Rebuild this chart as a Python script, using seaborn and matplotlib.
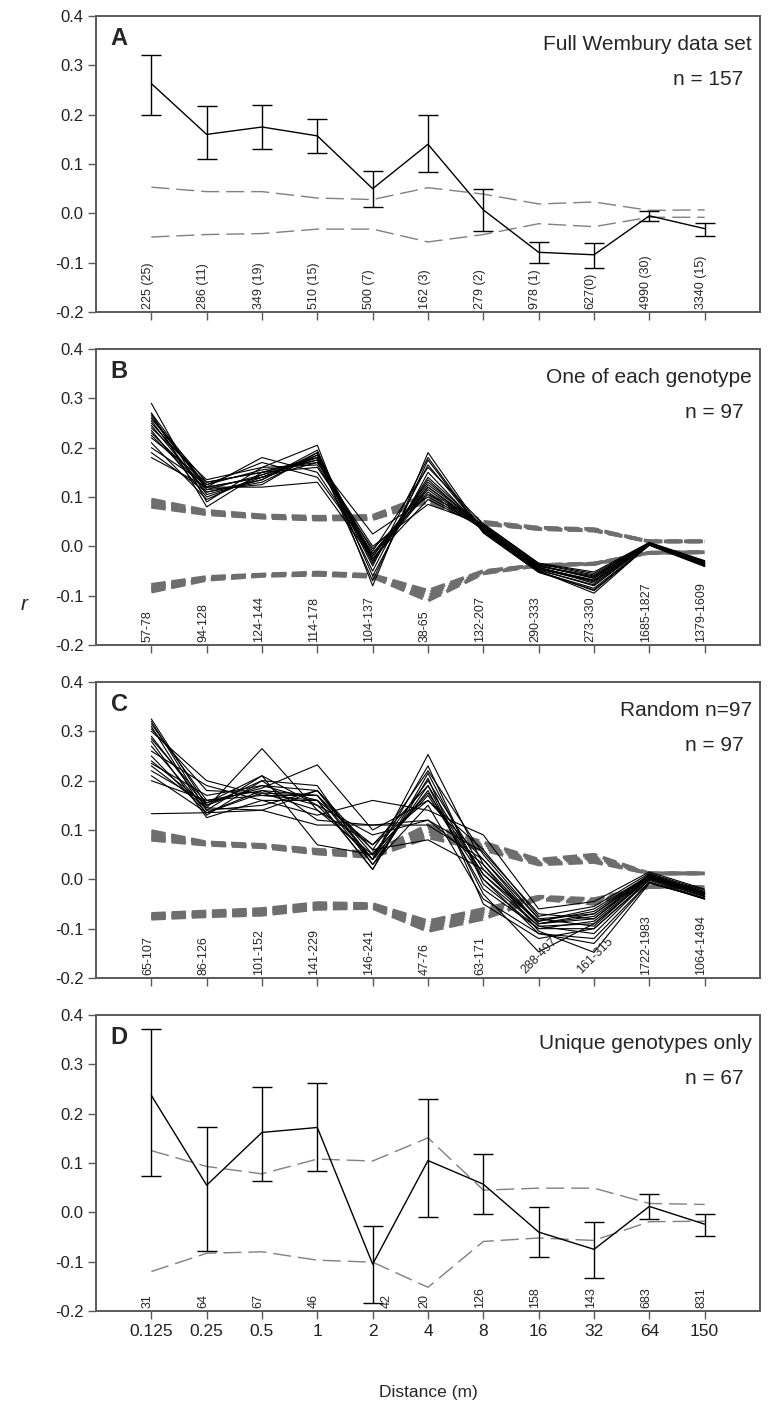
import matplotlib
matplotlib.use("Agg")
import matplotlib.pyplot as plt
import numpy as np
import pandas as pd
import seaborn as sns

# distance classes (m)
distances = ["0.125", "0.25", "0.5", "1", "2", "4", "8", "16", "32", "64", "150"]

# ---- panel A: full data set ----
a_mean = [0.263, 0.160, 0.175, 0.157, 0.050, 0.140, 0.007, -0.079, -0.084, -0.005, -0.031]
a_lo = [0.200, 0.110, 0.130, 0.122, 0.013, 0.083, -0.035, -0.101, -0.110, -0.016, -0.045]
a_hi = [0.320, 0.217, 0.220, 0.192, 0.086, 0.199, 0.050, -0.058, -0.060, 0.005, -0.019]
a_upper = [0.053, 0.044, 0.044, 0.031, 0.028, 0.052, 0.039, 0.019, 0.023, 0.006, 0.007]
a_lower = [-0.048, -0.043, -0.041, -0.032, -0.032, -0.058, -0.043, -0.021, -0.027, -0.008, -0.008]
a_counts = ["225 (25)", "286 (11)", "349 (19)", "510 (15)", "500 (7)", "162 (3)",
            "279 (2)", "978 (1)", "627(0)", "4990 (30)", "3340 (15)"]

# ---- panel B: one of each genotype, replicate runs ----
b_lines = [
    [0.290, 0.090, 0.160, 0.205, -0.080, 0.190, 0.030, -0.050, -0.095, 0.003, -0.040],
    [0.270, 0.120, 0.140, 0.185, -0.020, 0.130, 0.040, -0.040, -0.060, 0.006, -0.035],
    [0.265, 0.115, 0.145, 0.180, -0.030, 0.120, 0.035, -0.045, -0.070, 0.005, -0.033],
    [0.260, 0.130, 0.150, 0.175, -0.010, 0.160, 0.045, -0.035, -0.055, 0.007, -0.030],
    [0.255, 0.105, 0.135, 0.190, -0.025, 0.110, 0.033, -0.042, -0.075, 0.004, -0.036],
    [0.250, 0.125, 0.155, 0.170, 0.025, 0.100, 0.040, -0.038, -0.065, 0.006, -0.034],
    [0.245, 0.110, 0.130, 0.185, -0.035, 0.140, 0.038, -0.048, -0.080, 0.005, -0.038],
    [0.240, 0.135, 0.160, 0.165, -0.015, 0.125, 0.042, -0.040, -0.062, 0.006, -0.032],
    [0.235, 0.100, 0.140, 0.180, -0.040, 0.180, 0.028, -0.052, -0.085, 0.003, -0.039],
    [0.230, 0.120, 0.180, 0.150, -0.020, 0.115, 0.036, -0.044, -0.068, 0.005, -0.035],
    [0.225, 0.115, 0.125, 0.190, -0.030, 0.135, 0.034, -0.046, -0.072, 0.004, -0.036],
    [0.220, 0.130, 0.150, 0.160, -0.005, 0.105, 0.044, -0.036, -0.058, 0.007, -0.031],
    [0.210, 0.095, 0.145, 0.175, -0.050, 0.165, 0.030, -0.050, -0.090, 0.003, -0.040],
    [0.200, 0.125, 0.170, 0.140, -0.015, 0.120, 0.040, -0.040, -0.064, 0.006, -0.033],
    [0.190, 0.110, 0.135, 0.195, -0.060, 0.150, 0.032, -0.048, -0.078, 0.004, -0.037],
    [0.180, 0.120, 0.120, 0.130, -0.025, 0.095, 0.038, -0.043, -0.070, 0.005, -0.035],
    [0.270, 0.080, 0.150, 0.180, -0.070, 0.175, 0.027, -0.053, -0.088, 0.002, -0.041],
    [0.260, 0.120, 0.140, 0.170, 0.000, 0.085, 0.046, -0.034, -0.052, 0.008, -0.029],
]
b_upper = [
    [0.095, 0.072, 0.063, 0.060, 0.062, 0.105, 0.050, 0.038, 0.035, 0.010, 0.010],
    [0.090, 0.070, 0.061, 0.058, 0.060, 0.100, 0.048, 0.037, 0.034, 0.010, 0.010],
    [0.086, 0.068, 0.060, 0.056, 0.058, 0.096, 0.047, 0.036, 0.033, 0.010, 0.010],
    [0.082, 0.066, 0.059, 0.055, 0.056, 0.092, 0.046, 0.035, 0.032, 0.010, 0.010],
    [0.080, 0.065, 0.058, 0.054, 0.055, 0.090, 0.045, 0.035, 0.032, 0.010, 0.010],
]
b_lower = [
    [-0.078, -0.062, -0.057, -0.053, -0.058, -0.090, -0.050, -0.038, -0.035, -0.013, -0.012],
    [-0.082, -0.064, -0.058, -0.054, -0.059, -0.095, -0.051, -0.038, -0.035, -0.013, -0.012],
    [-0.085, -0.065, -0.058, -0.055, -0.060, -0.100, -0.052, -0.038, -0.035, -0.013, -0.012],
    [-0.088, -0.067, -0.059, -0.057, -0.061, -0.105, -0.054, -0.039, -0.036, -0.013, -0.012],
    [-0.092, -0.068, -0.060, -0.058, -0.062, -0.110, -0.055, -0.039, -0.036, -0.013, -0.012],
]
b_counts = ["57-78", "94-128", "124-144", "114-178", "104-137", "38-65",
            "132-207", "290-333", "273-330", "1685-1827", "1379-1609"]

# ---- panel C: random subsets n=97 ----
c_lines = [
    [0.325, 0.150, 0.190, 0.180, 0.050, 0.200, 0.020, -0.090, -0.080, 0.005, -0.030],
    [0.320, 0.140, 0.210, 0.150, 0.040, 0.180, -0.020, -0.100, -0.100, 0.000, -0.035],
    [0.315, 0.160, 0.180, 0.170, 0.060, 0.220, 0.050, -0.080, -0.070, 0.010, -0.025],
    [0.310, 0.130, 0.200, 0.190, 0.030, 0.150, -0.040, -0.110, -0.120, -0.005, -0.040],
    [0.300, 0.200, 0.170, 0.160, 0.070, 0.190, 0.010, -0.085, -0.060, 0.008, -0.028],
    [0.290, 0.145, 0.265, 0.140, 0.050, 0.170, 0.000, -0.095, -0.090, 0.003, -0.032],
    [0.285, 0.155, 0.185, 0.232, 0.100, 0.160, 0.060, -0.075, -0.055, 0.012, -0.022],
    [0.270, 0.140, 0.150, 0.180, 0.040, 0.253, 0.030, -0.105, -0.148, -0.008, -0.038],
    [0.260, 0.190, 0.160, 0.130, 0.160, 0.140, 0.090, -0.060, -0.045, 0.015, -0.020],
    [0.250, 0.135, 0.175, 0.170, 0.030, 0.190, -0.030, -0.147, -0.090, 0.002, -0.035],
    [0.240, 0.150, 0.200, 0.120, 0.110, 0.110, 0.040, -0.090, -0.075, 0.006, -0.030],
    [0.235, 0.170, 0.190, 0.160, 0.020, 0.205, -0.050, -0.120, -0.100, -0.002, -0.038],
    [0.230, 0.145, 0.140, 0.180, 0.060, 0.080, 0.020, -0.085, -0.065, 0.008, -0.027],
    [0.220, 0.155, 0.210, 0.070, 0.050, 0.175, 0.010, -0.095, -0.110, 0.000, -0.034],
    [0.210, 0.135, 0.180, 0.150, 0.090, 0.120, 0.055, -0.070, -0.080, 0.010, -0.025],
    [0.200, 0.160, 0.170, 0.170, 0.040, 0.230, -0.010, -0.100, -0.085, 0.004, -0.031],
    [0.133, 0.135, 0.140, 0.110, 0.110, 0.120, 0.030, -0.090, -0.070, 0.006, -0.029],
    [0.280, 0.125, 0.160, 0.160, 0.020, 0.215, 0.000, -0.110, -0.130, -0.006, -0.040],
    [0.305, 0.180, 0.175, 0.140, 0.070, 0.160, 0.040, -0.080, -0.095, 0.005, -0.030],
]
c_upper = [
    [0.098, 0.075, 0.070, 0.060, 0.055, 0.110, 0.075, 0.040, 0.050, 0.012, 0.012],
    [0.092, 0.074, 0.069, 0.058, 0.052, 0.104, 0.071, 0.037, 0.045, 0.012, 0.012],
    [0.087, 0.073, 0.068, 0.056, 0.050, 0.098, 0.068, 0.035, 0.042, 0.012, 0.012],
    [0.083, 0.071, 0.066, 0.054, 0.048, 0.092, 0.064, 0.033, 0.038, 0.012, 0.012],
    [0.080, 0.070, 0.065, 0.052, 0.045, 0.085, 0.060, 0.030, 0.035, 0.012, 0.012],
]
c_lower = [
    [-0.070, -0.065, -0.060, -0.048, -0.050, -0.085, -0.060, -0.035, -0.040, -0.015, -0.016],
    [-0.073, -0.068, -0.063, -0.051, -0.052, -0.090, -0.065, -0.036, -0.042, -0.015, -0.016],
    [-0.075, -0.070, -0.066, -0.054, -0.054, -0.095, -0.070, -0.037, -0.045, -0.015, -0.016],
    [-0.078, -0.073, -0.069, -0.057, -0.056, -0.100, -0.075, -0.038, -0.047, -0.015, -0.017],
    [-0.080, -0.075, -0.072, -0.060, -0.058, -0.105, -0.080, -0.040, -0.050, -0.015, -0.017],
]
c_counts = ["65-107", "86-126", "101-152", "141-229", "146-241", "47-76",
            "63-171", "288-497", "161-315", "1722-1983", "1064-1494"]

# ---- panel D: unique genotypes only ----
d_mean = [0.237, 0.055, 0.162, 0.172, -0.105, 0.105, 0.057, -0.040, -0.075, 0.012, -0.024]
d_lo = [0.073, -0.078, 0.063, 0.083, -0.183, -0.009, -0.004, -0.091, -0.133, -0.013, -0.048]
d_hi = [0.372, 0.173, 0.255, 0.262, -0.028, 0.229, 0.118, 0.010, -0.020, 0.037, -0.003]
d_upper = [0.125, 0.093, 0.078, 0.108, 0.104, 0.151, 0.045, 0.049, 0.049, 0.018, 0.016]
d_lower = [-0.120, -0.083, -0.080, -0.097, -0.101, -0.152, -0.059, -0.052, -0.057, -0.019, -0.018]
d_counts = ["31", "64", "67", "46", "42", "20", "126", "158", "143", "683", "831"]

titles = ["Full Wembury data set", "One of each genotype", "Random n=97", "Unique genotypes only"]
n_text = ["n = 157", "n = 97", "n = 97", "n = 67"]
letters = ["A", "B", "C", "D"]


def to_long(lines):
    rows = []
    for k, line in enumerate(lines):
        for i, v in enumerate(line):
            rows.append({"rep": k, "pos": i, "r": v})
    return pd.DataFrame(rows)


sns.set_theme(style="ticks")
plt.rcParams["font.family"] = ["Liberation Sans", "DejaVu Sans"]
plt.rcParams["axes.unicode_minus"] = False

fig = plt.figure(figsize=(7.69, 14.27), dpi=100)
W, H = 769, 1427
left, right = 96, 760
panel_px = [(16, 312), (349, 645), (682, 978), (1015, 1311)]
axes = []
for top, bot in panel_px:
    ax = fig.add_axes([left / W, 1 - bot / H, (right - left) / W, (bot - top) / H])
    axes.append(ax)

spine_col = "#5a5a5a"
grey = "#6e6e6e"

for idx, ax in enumerate(axes):
    ax.set_xlim(-1, 11)
    ax.set_ylim(-0.2, 0.4)
    ax.set_yticks(np.arange(-0.2, 0.41, 0.1))
    ax.set_yticklabels([f"{v:.1f}" for v in np.arange(-0.2, 0.41, 0.1)], fontsize=12)
    ax.set_xticks(range(len(distances)))
    if idx == 3:
        ax.set_xticklabels(distances, fontsize=12.5)
    else:
        ax.set_xticklabels([])
    for s in ax.spines.values():
        s.set_color(spine_col)
        s.set_linewidth(1.4)
    ax.tick_params(direction="out", length=6, width=1.0, color=spine_col, pad=3,
                   labelcolor="#222222")
    ax.text(0.022, 0.925, letters[idx], transform=ax.transAxes, fontsize=17,
            fontweight="bold", va="center", ha="left")
    ax.text(0.988, 0.905, titles[idx], transform=ax.transAxes, fontsize=15,
            va="center", ha="right")
    ax.text(0.975, 0.785, n_text[idx], transform=ax.transAxes, fontsize=15,
            va="center", ha="right")

pos = list(range(len(distances)))

# A and D: mean with error bars plus thin dashed envelopes
for ax, mean, lo, hi, up, low in [(axes[0], a_mean, a_lo, a_hi, a_upper, a_lower),
                                  (axes[3], d_mean, d_lo, d_hi, d_upper, d_lower)]:
    env = to_long([up, low])
    sns.lineplot(data=env, x="pos", y="r", units="rep", estimator=None, ax=ax,
                 color="#808080", linewidth=1.0, linestyle=(0, (13, 5)), legend=False)
    m = pd.DataFrame({"pos": pos, "r": mean})
    sns.lineplot(data=m, x="pos", y="r", ax=ax, color="black", linewidth=1.0)
    ax.errorbar(pos, mean, yerr=[np.array(mean) - np.array(lo), np.array(hi) - np.array(mean)],
                fmt="none", ecolor="black", elinewidth=1.0, capsize=7, capthick=1.0)

# B and C: replicate lines plus thick dashed envelopes
for ax, lines, up, low in [(axes[1], b_lines, b_upper, b_lower),
                           (axes[2], c_lines, c_upper, c_lower)]:
    env = to_long(up + low)
    sns.lineplot(data=env, x="pos", y="r", units="rep", estimator=None, ax=ax,
                 color=grey, linewidth=2.6, linestyle=(0, (4, 1.6)), legend=False)
    reps = to_long(lines)
    sns.lineplot(data=reps, x="pos", y="r", units="rep", estimator=None, ax=ax,
                 color="black", linewidth=0.8, legend=False)

for ax in axes:
    ax.set_xlabel("")
    ax.set_ylabel("")

# pair counts written inside each panel
for ax, labels in zip(axes, [a_counts, b_counts, c_counts, d_counts]):
    for i, lab in enumerate(labels):
        dx = -0.06
        if ax is axes[3] and lab == "42":
            dx = 0.25
        if ax is axes[2] and i in (7, 8):
            ax.text(i - 0.2, -0.197, lab, rotation=45, rotation_mode="anchor",
                    ha="left", va="bottom", fontsize=9)
            continue
        ax.text(i + dx, -0.194, lab, rotation=90, ha="center", va="bottom", fontsize=9)

fig.text(24 / W, 1 - 605 / H, "r", fontsize=15, style="italic", ha="center", va="center")
fig.text(428 / W, 1 - 1392 / H, "Distance (m)", fontsize=12.5, ha="center", va="center")

fig.savefig("out.png", dpi=100)
